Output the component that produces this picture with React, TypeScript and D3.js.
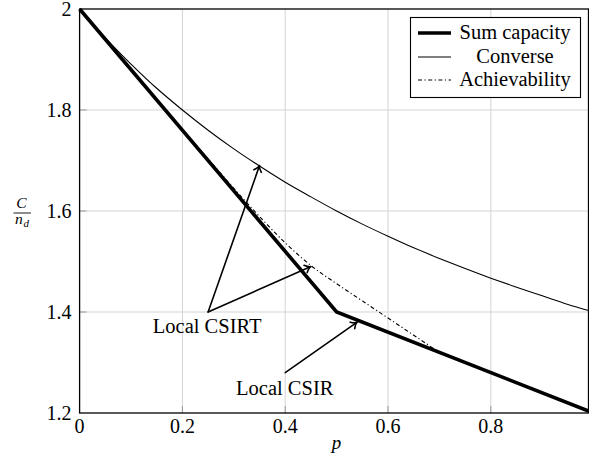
import React from "react";
import * as d3 from "d3";

const xTicks = [0, 0.2, 0.4, 0.6, 0.8];
const yTicks = [1.2, 1.4, 1.6, 1.8, 2];
const yTickLabels = ["1.2", "1.4", "1.6", "1.8", "2"];
const xTickLabels = ["0", "0.2", "0.4", "0.6", "0.8"];

const sumP = [0, 0.5, 0.99];
const sumC = [2, 1.4, 1.204];

const convP = [0, 0.05, 0.1, 0.15, 0.2, 0.25, 0.3, 0.35, 0.4, 0.45, 0.5, 0.55, 0.6, 0.65, 0.7, 0.75, 0.8, 0.85, 0.9, 0.95, 0.99];
const convC = [2, 1.943, 1.891, 1.843, 1.8, 1.76, 1.723, 1.689, 1.657, 1.628, 1.6, 1.574, 1.55, 1.527, 1.506, 1.486, 1.467, 1.449, 1.432, 1.415, 1.403];

const achP = [0, 0.05, 0.1, 0.15, 0.2, 0.25, 0.3, 0.35, 0.4, 0.45, 0.5, 0.55, 0.6, 0.65, 0.7];
const achC = [2, 1.94, 1.88, 1.82, 1.761, 1.703, 1.645, 1.589, 1.537, 1.492, 1.456, 1.422, 1.388, 1.354, 1.32];

const legendLabels = ["Sum capacity", "Converse", "Achievability"];

// annotations: [fromP, fromC, toP, toC]
const csirtArrows = [
  [0.25, 1.4, 0.35, 1.69],
  [0.25, 1.4, 0.45, 1.49],
];
const csirArrows = [[0.4, 1.28, 0.54, 1.38]];

const W = 589;
const H = 463;
const left = 79.6;
const right = 588.5;
const top = 9;
const bottom = 413;

const x = d3.scaleLinear().domain([0, 0.99]).range([left, right]);
const y = d3.scaleLinear().domain([1.2, 2]).range([bottom, top]);

const FONT = "Liberation Serif";

function Arrow({ a }: { a: number[] }) {
  const x1 = x(a[0]), y1 = y(a[1]), x2 = x(a[2]), y2 = y(a[3]);
  const ang = Math.atan2(y2 - y1, x2 - x1);
  const L = 7;
  const s = 0.6;
  const h1 = [x2 - L * Math.cos(ang - s), y2 - L * Math.sin(ang - s)];
  const h2 = [x2 - L * Math.cos(ang + s), y2 - L * Math.sin(ang + s)];
  return (
    <g stroke="#000" strokeWidth={1.6} fill="none" strokeLinecap="round">
      <line x1={x1} y1={y1} x2={x2} y2={y2} />
      <path d={`M${h1[0]},${h1[1]} Q${x2 - 2 * Math.cos(ang)},${y2 - 2 * Math.sin(ang)} ${x2},${y2} Q${x2 - 2 * Math.cos(ang)},${y2 - 2 * Math.sin(ang)} ${h2[0]},${h2[1]}`} />
    </g>
  );
}

export default function App() {
  const line = d3
    .line<[number, number]>()
    .x((d) => x(d[0]))
    .y((d) => y(d[1]));
  const smooth = d3
    .line<[number, number]>()
    .x((d) => x(d[0]))
    .y((d) => y(d[1]))
    .curve(d3.curveMonotoneX);

  const sumData = sumP.map((p, i) => [p, sumC[i]] as [number, number]);
  const convData = convP.map((p, i) => [p, convC[i]] as [number, number]);
  const achData = achP.map((p, i) => [p, achC[i]] as [number, number]);

  const legX = 410.5, legY = 17.5, legW = 170, legH = 80;
  const rowY = [33, 57, 80];
  const styles = [
    { w: 3.6, dash: undefined as string | undefined },
    { w: 1.1, dash: undefined },
    { w: 1.1, dash: "4,2.5,1.2,2.5" },
  ];

  return (
    <svg
      width={W}
      height={H}
      style={{ position: "absolute", left: 0, top: 0, background: "#fff" }}
    >
      <rect x={0} y={0} width={W} height={H} fill="#fff" />
      <g stroke="#d3d3d3" strokeWidth={1}>
        {xTicks.slice(1).map((t) => (
          <line key={"gx" + t} x1={x(t)} x2={x(t)} y1={top} y2={bottom} />
        ))}
        {yTicks.slice(1, -1).map((t) => (
          <line key={"gy" + t} x1={left} x2={right} y1={y(t)} y2={y(t)} />
        ))}
      </g>
      <g stroke="#999" strokeWidth={1}>
        {xTicks.slice(1).map((t) => (
          <line key={"tx" + t} x1={x(t)} x2={x(t)} y1={bottom} y2={bottom - 7} />
        ))}
        {yTicks.slice(1, -1).map((t) => (
          <line key={"ty" + t} x1={left} x2={left + 7} y1={y(t)} y2={y(t)} />
        ))}
      </g>
      <path d={smooth(convData) || ""} fill="none" stroke="#000" strokeWidth={1.1} />
      <path d={smooth(achData) || ""} fill="none" stroke="#000" strokeWidth={1.1} strokeDasharray="4,2.5,1.2,2.5" />
      <path d={line(sumData) || ""} fill="none" stroke="#000" strokeWidth={3.6} strokeLinejoin="miter" />
      <rect x={left} y={top} width={right - left} height={bottom - top} fill="none" stroke="#000" strokeWidth={1.3} />
      <g fontSize={20} fill="#000" fontFamily={FONT}>
        {xTicks.map((t, i) => (
          <text key={"lx" + t} x={x(t)} y={bottom + 20} textAnchor="middle">
            {xTickLabels[i]}
          </text>
        ))}
        {yTicks.map((t, i) => (
          <text key={"ly" + t} x={left - 8} y={y(t) + 6.5} textAnchor="end">
            {yTickLabels[i]}
          </text>
        ))}
      </g>
      <text x={x(0.5)} y={449} fontSize={19} fontStyle="italic" textAnchor="middle" fontFamily={FONT}>p</text>
      <g fontSize={15.5} fontStyle="italic" fontFamily={FONT}>
        <text x={21.5} y={208} textAnchor="middle">C</text>
        <line x1={13.5} x2={31} y1={213} y2={213} stroke="#000" strokeWidth={0.9} />
        <text x={15} y={224}>n</text>
        <text x={23.5} y={227} fontSize={11}>d</text>
      </g>
      <rect x={legX} y={legY} width={legW} height={legH} fill="#fff" stroke="#000" strokeWidth={1.1} />
      {legendLabels.map((lab, i) => (
        <g key={lab}>
          <line x1={418} x2={451} y1={rowY[i]} y2={rowY[i]} stroke="#000" strokeWidth={styles[i].w} strokeDasharray={styles[i].dash} />
          <text x={515} y={rowY[i] + 6} fontSize={20.5} textAnchor="middle" fontFamily={FONT}>{lab}</text>
        </g>
      ))}
      {csirtArrows.map((a, i) => (
        <Arrow key={"a" + i} a={a} />
      ))}
      {csirArrows.map((a, i) => (
        <Arrow key={"b" + i} a={a} />
      ))}
      <text x={x(0.25) - 1} y={y(1.4) + 21} fontSize={20.5} textAnchor="middle" fontFamily={FONT}>Local CSIRT</text>
      <text x={x(0.4) - 0.5} y={y(1.28) + 22} fontSize={20.5} textAnchor="middle" fontFamily={FONT}>Local CSIR</text>
    </svg>
  );
}
